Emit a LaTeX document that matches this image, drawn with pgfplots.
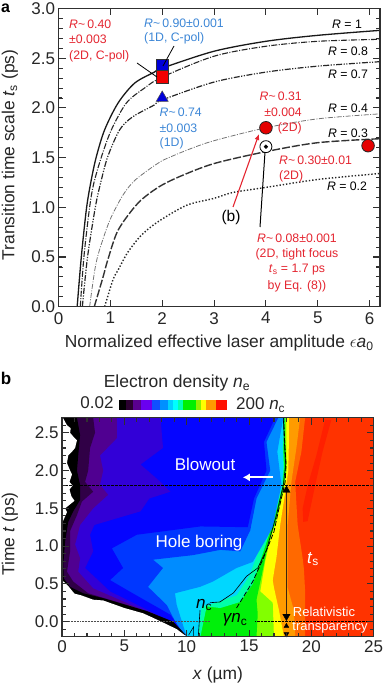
\documentclass[border=0pt]{standalone}
\usepackage{pgfplots}
\pgfplotsset{compat=1.18}
\usepackage{fontspec}
\setmainfont{Liberation Sans}
\usetikzlibrary{arrows.meta}
\definecolor{tred}{HTML}{E42530}
\definecolor{tblue}{HTML}{3C86D6}
\definecolor{framec}{HTML}{303030}
\newcommand\fs[1]{\fontsize{#1}{#1}\selectfont}
\newcommand\tn[5][center]{\node[anchor=#1,inner sep=0pt,text=#5] at ({#2*1pt},{(685-#3)*1pt}) {#4};}
\newcommand\R{\textit{R}}
\newcommand\sm{\textasciitilde}
\pgfplotsset{common/.style={
  scale only axis, tick align=inside, axis on top, tickpos=both,
  axis line style={line width=1.1pt,color=framec},
  tick style={draw=framec,solid,line width=1pt},
  tickwidth=7pt, subtickwidth=4pt,
  tick label style={font=\fs{17},text=black!85},
  label style={font=\fs{17.4},text=black!85},
  y tick label style={/pgf/number format/.cd,fixed,fixed zerofill,precision=1,assume math mode=true},
  x tick label style={/pgf/number format/assume math mode=true},
}}
\begin{document}
\begin{tikzpicture}
\useasboundingbox (0,0) rectangle (383pt,685pt);
% ---------- panel a
\begin{axis}[common,
  at={(58.5pt,378.3pt)},anchor=south west,width=321.5pt,height=298.2pt,
  xmin=0,xmax=6.2,ymin=0,ymax=3,
  xtick={0,1,2,3,4,5,6},ytick={0,0.5,...,3},minor y tick num=4,
  xticklabel style={yshift=-2pt},
  xlabel={Normalized effective laser amplitude \(\epsilon\)\textit{a}\textsubscript{0}},
  ylabel={Transition time scale \textit{t}\textsubscript{s} (ps)},
  xlabel style={at={(axis description cs:0.5,-0.123)},anchor=center},
  ylabel style={at={(axis description cs:-0.151,0.509)},anchor=center},
]
\addplot[smooth,black!90,line width=1.3pt] coordinates {(0.36,0)(0.44,0.5)(0.54,0.99)(0.63,1.27)(0.73,1.51)(0.89,1.78)(1.15,2.05)(1.47,2.25)(1.85,2.36)(2,2.40)(3,2.57)(4,2.67)(5,2.73)(6.2,2.78)};
\addplot[smooth,black!85,line width=1.1pt,dash pattern=on 6pt off 1.5pt on 1pt off 1.5pt] coordinates {(0.42,0)(0.49,0.5)(0.6,1)(0.68,1.24)(0.83,1.51)(1.02,1.78)(1.31,2.05)(1.66,2.2)(2,2.31)(3,2.52)(4,2.62)(5,2.67)(6.2,2.69)};
\addplot[smooth,black!85,line width=1.2pt,dash pattern=on 6pt off 1.5pt on 1.2pt off 1.5pt on 1.2pt off 1.5pt] coordinates {(0.46,0)(0.56,0.5)(0.71,1)(0.81,1.24)(0.95,1.51)(1.18,1.78)(1.43,1.91)(1.85,2.03)(2,2.08)(3,2.26)(4,2.36)(5,2.42)(6.2,2.465)};
\addplot[smooth,black!55,line width=0.8pt,dash pattern=on 5pt off 1.5pt on 1pt off 1.5pt] coordinates {(0.6,0)(0.7,0.37)(0.79,0.57)(0.99,0.87)(1.24,1.12)(1.47,1.27)(1.85,1.42)(2,1.47)(2.5,1.58)(3,1.67)(4,1.80)(5,1.89)(6.2,1.94)};
\addplot[smooth,black!80,line width=1.4pt,dash pattern=on 8pt off 2pt] coordinates {(0.69,0)(0.86,0.3)(0.95,0.47)(1.15,0.77)(1.53,1.04)(1.92,1.2)(2.34,1.31)(3,1.44)(4,1.56)(5,1.65)(6.2,1.69)};
\addplot[smooth,black!85,line width=1.4pt,dash pattern=on 1.4pt off 1.9pt] coordinates {(0.89,0)(1.05,0.27)(1.15,0.37)(1.34,0.55)(1.6,0.72)(1.92,0.855)(2.47,1.02)(3,1.09)(3.37,1.15)(4,1.2)(5,1.28)(6.2,1.34)};
\addplot[only marks,mark=square*,mark size=6.3pt,mark options={fill=blue!85!black,draw=black!80,line width=0.7pt}] coordinates {(2,2.42)};
\addplot[only marks,mark=square*,mark size=6.3pt,mark options={fill=red!95!black,draw=black!80,line width=0.7pt}] coordinates {(2,2.31)};
\addplot[only marks,mark=triangle*,mark size=7pt,mark options={fill=blue!85!black,draw=black!70,line width=0.5pt}] coordinates {(2,2.10)};
\addplot[only marks,mark=*,mark size=6.3pt,mark options={fill=red!90!black,draw=black!85,line width=0.8pt}] coordinates {(4,1.80)(5.97,1.62)};
\addplot[only marks,mark=*,mark size=6pt,mark options={fill=white,draw=black,line width=0.8pt}] coordinates {(4,1.61)};
\addplot[only marks,mark=*,mark size=1.9pt,mark options={fill=black,draw=black}] coordinates {(4,1.61)};
\end{axis}
% ---------- panel b
\begin{axis}[common,
  at={(62pt,48.3pt)},anchor=south west,width=311.7pt,height=219pt,
  xmin=0,xmax=25,ymin=-0.2,ymax=2.7,
  xtick={0,5,...,25},ytick={0,0.5,...,2.5},minor x tick num=4,minor y tick num=4,
  xlabel={\textit{x} (\textmu m)},
  ylabel={Time \textit{t} (ps)},
  xlabel style={at={(axis description cs:0.5,-0.175)},anchor=center},
  ylabel style={at={(axis description cs:-0.167,0.469)},anchor=center},
]
\addplot[fill={rgb,255:red,255;green,51;blue,0},draw=none] coordinates {(0,-0.2)(25,-0.2)(25,2.7)(0,2.7)} -- cycle;
\addplot[fill={rgb,255:red,255;green,32;blue,0},draw=none] coordinates {(19.35,1.32)(19.7,1.33)(20.3,1.8)(20.9,2.25)(21.6,2.67)(21.1,2.67)(20.4,2.2)(19.7,1.8)(19.3,1.5)} -- cycle;
\addplot[fill={rgb,255:red,255;green,105;blue,0},draw=none] coordinates {(0,-0.2)(19.5,-0.2)(19.5,0.4)(19.4,0.7)(19.3,0.84)(18.9,1.28)(18.7,1.85)(19.2,2.25)(19.5,2.7)(0,2.7)} -- cycle;
\addplot[fill={rgb,255:red,255;green,155;blue,0},draw=none] coordinates {(0,-0.2)(18.7,-0.2)(18.6,0.15)(18.1,0.45)(18.1,0.85)(18.1,1.28)(18.4,1.85)(18.8,2.3)(19.1,2.7)(0,2.7)} -- cycle;
\addplot[fill={rgb,255:red,255;green,255;blue,0},draw=none] coordinates {(0,-0.2)(17.8,-0.2)(17.4,0.15)(17.0,0.45)(16.9,0.55)(17.2,0.85)(17.5,1.28)(17.85,1.65)(18.15,2.0)(18.2,2.4)(18.2,2.7)(0,2.7)} -- cycle;
\addplot[fill={rgb,255:red,130;green,255;blue,0},draw=none] coordinates {(0,-0.2)(17.0,-0.2)(16.9,0.25)(15.9,0.4)(16.3,0.8)(16.8,1.15)(17.3,1.4)(17.8,1.75)(18,2.0)(18,2.3)(18,2.7)(0,2.7)} -- cycle;
\addplot[fill={rgb,255:red,0;green,240;blue,10},draw=none] coordinates {(0,-0.2)(15.6,-0.2)(15.7,0.1)(15.6,0.29)(16.0,0.6)(16.5,1.0)(17.1,1.3)(17.6,1.65)(17.85,1.85)(18,2.1)(17.9,2.4)(17.9,2.7)(0,2.7)} -- cycle;
\addplot[fill={rgb,255:red,0;green,255;blue,170},draw=none] coordinates {(0,-0.2)(11.1,-0.2)(11.6,0.2)(12.7,0.18)(14.3,0.26)(15.3,0.5)(16.1,0.9)(16.9,1.3)(17.4,1.6)(17.7,1.8)(17.8,2.05)(17.75,2.3)(17.85,2.7)(0,2.7)} -- cycle;
\addplot[fill={rgb,255:red,0;green,215;blue,255},draw=none] coordinates {(0,-0.2)(10.9,-0.2)(11.2,0.2)(12.3,0.25)(14,0.35)(15,0.6)(15.8,0.95)(16.7,1.3)(17.3,1.6)(17.65,1.8)(17.75,2.05)(17.7,2.3)(17.8,2.7)(0,2.7)} -- cycle;
\addplot[fill={rgb,255:red,0;green,140;blue,255},draw=none] coordinates {(0,-0.2)(10,-0.2)(9.2,0.22)(9.06,0.375)(11.07,0.46)(12.1,0.53)(14,0.71)(15.3,0.79)(16.4,1.1)(16.9,1.25)(17.6,1.81)(17.27,2.25)(17.75,2.7)(0,2.7)} -- cycle;
\addplot[fill={rgb,255:red,0;green,55;blue,255},draw=none] coordinates {(0,-0.2)(9.7,-0.2)(8.4,0.22)(6.9,0.46)(8.1,0.71)(7.3,0.82)(10.5,0.88)(12.7,0.95)(14.3,0.93)(15.1,1.21)(15.6,1.63)(16.7,2)(16.4,2.38)(17.35,2.7)(0,2.7)} -- cycle;
\addplot[fill={rgb,255:red,5;green,5;blue,255},draw=none] coordinates {(0,-0.2)(9.9,-0.2)(8.7,0.09)(5.2,0.42)(3.85,0.55)(4.9,0.71)(4,0.97)(6,1.15)(11.1,1.26)(14.9,1.25)(15.4,1.63)(16.4,2)(16.2,2.38)(17.1,2.7)(0,2.7)} -- cycle;
\addplot[fill={rgb,255:red,50;green,0;blue,215},draw=none] coordinates {(0,-0.2)(9.9,-0.2)(9.2,-0.04)(3.85,0.4)(1.85,0.71)(2.5,0.93)(2.25,1.15)(2.6,1.28)(6.3,1.46)(7,1.63)(8.7,1.72)(7.9,1.85)(6.3,2.08)(8.1,2.3)(7.9,2.7)(0,2.7)} -- cycle;
\addplot[fill={rgb,255:red,80;green,0;blue,145},draw=none] coordinates {(0,-0.2)(9.9,-0.2)(8.9,-0.02)(2.5,0.44)(1.3,0.66)(1.45,0.84)(1.05,1.02)(1.45,1.28)(2.5,1.5)(3.7,1.68)(3.05,1.81)(3.3,2)(3.05,2.2)(4.4,2.43)(4.4,2.7)(0,2.7)} -- cycle;
\addplot[fill={rgb,255:red,48;green,0;blue,70},draw=none] coordinates {(0,-0.2)(9.8,-0.2)(7.9,0.04)(5.2,0.22)(2.1,0.375)(0.9,0.53)(0.4,0.66)(0.65,0.93)(0.65,1.2)(1.2,1.41)(1.6,1.59)(2.5,1.72)(1.85,1.85)(2.1,2)(2.25,2.3)(2.65,2.5)(2.5,2.7)(0,2.7)} -- cycle;
\addplot[fill=black,draw=none] coordinates {(0,-0.2)(9.95,-0.18)(8.9,0)(6.8,0.14)(3.3,0.31)(1.7,0.375)(0.65,0.46)(0.15,0.57)(0.1,0.75)(0.25,1.06)(0.5,1.32)(0.9,1.46)(1.45,1.61)(1.45,1.81)(1.2,2)(1.3,2.2)(1.45,2.47)(1.2,2.7)(0,2.7)} -- cycle;
\addplot[fill=white,draw=none] coordinates {(0,-0.2)(10,-0.2)(9.2,-0.1)(8.2,-0.02)(7.3,0.05)(6.5,0.11)(5,0.18)(3.3,0.28)(2.5,0.29)(1.5,0.35)(1,0.37)(0.5,0.47)(0,0.55)} -- cycle;
\addplot[fill=white,draw=none] coordinates {(0,1.3)(0.05,1.32)(0.4,1.45)(0.25,1.5)(1,1.6)(0.75,1.66)(0.6,1.75)(0.85,1.8)(0.6,1.85)(0.8,1.95)(0.65,2)(0.4,2.1)(0.5,2.2)(0.8,2.25)(1.05,2.3)(1.2,2.4)(0.85,2.46)(0.65,2.5)(0.7,2.56)(0.4,2.6)(0.1,2.69)(0,2.7)} -- cycle;
% guide lines
\addplot[black,line width=0.35pt,densely dotted] coordinates {(0,1.81)(25,1.81)};
\addplot[black!70,line width=0.5pt,densely dotted] coordinates {(0,0)(11.8,0)};
\addplot[black,line width=0.4pt,densely dotted] coordinates {(15.5,0)(25,0)};
% density contours
\addplot[black,line width=0.6pt] coordinates {(10.93,-0.2)(11.07,0.15)};
\addplot[black,line width=0.6pt] coordinates {(11.87,0.25)(12.67,0.26)(13.75,0.38)(14.8,0.6)(15.7,0.71)(16.4,0.95)(17.2,1.41)(17.75,1.81)(17.94,2.08)(17.83,2.38)(17.75,2.7)};
\addplot[black,line width=0.8pt,dash pattern=on 5pt off 2pt] coordinates {(14,0.18)(15.3,0.53)(16.15,0.84)(17,1.19)(17.35,1.46)(17.9,1.85)(17.97,2.08)(17.86,2.38)(17.78,2.7)};
\addplot[black,line width=0.5pt] coordinates {(10.15,-0.18)(10.55,-0.07)(10.55,-0.2)};
% transition time
\addplot[black!70!brown,line width=0.7pt] coordinates {(18,1.75)(18,0.07)};
\addplot[only marks,mark=triangle*,mark size=4.2pt,mark options={fill=black,draw=black}] coordinates {(18,1.74)};
\addplot[only marks,mark=triangle*,mark size=4.2pt,mark options={fill=black,draw=black,rotate=180}] coordinates {(18,0.07)};
\addplot[only marks,mark=triangle*,mark size=2.8pt,mark options={fill=black,draw=black}] coordinates {(18,-0.06)};
\addplot[only marks,mark=triangle*,mark size=2.8pt,mark options={fill=black,draw=black,rotate=180}] coordinates {(18,-0.165)};
\addplot[white,line width=2pt,-{Latex[length=7pt,width=8pt]}] coordinates {(16.9,1.91)(14.5,1.91)};
\end{axis}
% ---------- frames and ticks
\draw[framec,line width=1.1pt] (58.5pt,378.3pt) rectangle (380pt,676.5pt);
\draw[framec,line width=1.1pt] (62pt,48.3pt) rectangle (373.7pt,267.3pt);
\foreach \k in {1,...,6}{
  \draw[framec,line width=0.9pt] ({(58.5+51.855*\k)*1pt},378.3pt) -- ++(0,7pt);
  \draw[framec,line width=0.9pt] ({(58.5+51.855*\k)*1pt},676.5pt) -- ++(0,-7pt);
}
\foreach \k [evaluate=\k as \L using {mod(\k,5)==0?7:4}] in {1,...,29}{
  \draw[framec,line width=0.8pt] (58.5pt,{(378.3+9.94*\k)*1pt}) -- ++({\L*1pt},0);
  \draw[framec,line width=0.8pt] (380pt,{(378.3+9.94*\k)*1pt}) -- ++({-\L*1pt},0);
}
\foreach \k [evaluate=\k as \L using {mod(\k,5)==0?7:4}] in {1,...,24}{
  \draw[framec,line width=0.8pt] ({(62+12.468*\k)*1pt},48.3pt) -- ++(0,{\L*1pt});
  \draw[framec,line width=0.8pt] ({(62+12.468*\k)*1pt},267.3pt) -- ++(0,{-\L*1pt});
}
\foreach \k [evaluate=\k as \L using {mod(\k,5)==0?7:4}] in {-1,...,26}{
  \draw[framec,line width=0.8pt] (62pt,{(48.3+7.5517*(\k+2))*1pt}) -- ++({\L*1pt},0);
  \draw[framec,line width=0.8pt] (373.7pt,{(48.3+7.5517*(\k+2))*1pt}) -- ++({-\L*1pt},0);
}
% ---------- panel letters
\tn{5.5}{8}{\fs{16}\bfseries a}{black}
\tn{6}{378}{\fs{17}\bfseries b}{black}
% ---------- panel a annotations
\tn[west]{69}{24}{\fs{12.3}\R\sm\,0.40}{tred}
\tn[west]{69}{39.5}{\fs{12.3}±0.003}{tred}
\tn[west]{69}{56}{\fs{12.3}(2D, C-pol)}{tred}
\tn[west]{144}{23}{\fs{12.3}\R\sm\,0.90±0.001}{tblue}
\tn[west]{144}{38.5}{\fs{12.3}(1D, C-pol)}{tblue}
\tn[west]{159.5}{112}{\fs{12.3}\R\sm\,0.74}{tblue}
\tn[west]{159.5}{128}{\fs{12.3}±0.003}{tblue}
\tn[west]{159.5}{143.5}{\fs{12.3}(1D)}{tblue}
\tn[east]{302}{96}{\fs{12.3}\R\sm\,0.31}{tred}
\tn[east]{302}{112}{\fs{12.3}±0.004}{tred}
\tn[east]{302}{128}{\fs{12.3}(2D)}{tred}
\tn[west]{279}{160}{\fs{12.3}\R\sm\,0.30±0.01}{tred}
\tn[west]{279}{176}{\fs{12.3}(2D)}{tred}
\tn{297}{238}{\fs{12.3}\R\sm\,0.08±0.001}{tred}
\tn{297}{254}{\fs{12.3}(2D, tight focus}{tred}
\tn{297}{270}{\fs{12.3}\textit{t}\textsubscript{s} = 1.7 ps}{tred}
\tn{297}{286}{\fs{12.3}by Eq. (8))}{tred}
\tn{347}{24}{\fs{12.3}\R\ = 1}{black}
\tn{348}{51}{\fs{12.3}\R\ = 0.8}{black}
\tn{348}{74}{\fs{12.3}\R\ = 0.7}{black}
\tn{348}{108}{\fs{12.3}\R\ = 0.4}{black}
\tn{348}{133}{\fs{12.3}\R\ = 0.3}{black}
\tn{347}{186}{\fs{12.3}\R\ = 0.2}{black}
\tn{231}{217}{\fs{15.5}(b)}{black}
\draw[black,line width=0.8pt] (174pt,{(685-46)*1pt}) -- (163pt,{(685-66)*1pt});
\draw[black,line width=0.8pt] (137pt,{(685-63)*1pt}) -- (157pt,{(685-77)*1pt});
\draw[tred,line width=1.1pt,-{Latex[length=6pt,width=5pt]}] (233pt,{(685-207)*1pt}) -- (259pt,{(685-134)*1pt});
\draw[black,line width=1pt] (260pt,{(685-227)*1pt}) -- (265pt,{(685-152)*1pt});
% ---------- colour key
\foreach \a/\b/\c in {119.3/126/000000,126/133/2A0030,133/141/5A0090,141/151.5/6A00F0,151.5/160/1050FF,160/168/0090FF,168/173/00D0FF,173/178/00FFFF,178/183/00FFB0,183/196/00F000,196/201/90F000,201/206/FFFF00,206/216/FF9900,216/227.3/FF1000}{
  \definecolor{kc}{HTML}{\c}
  \fill[kc] ({\a*1pt},{(685-400.3)*1pt}) rectangle ({\b*1pt},{(685-410)*1pt});
}
\tn{177}{383}{\fs{17.5}Electron density \textit{n}\textsubscript{e}}{black!85}
\tn{97}{403}{\fs{17}0.02}{black!85}
\tn[west]{236}{405}{\fs{17}200 \textit{n}\textsubscript{c}}{black!85}
% ---------- panel b annotations
\tn{205}{464}{\fs{17}Blowout}{white}
\tn{199}{543}{\fs{17}Hole boring}{white}
\tn{313}{559}{\fs{17}\textit{t}\textsubscript{s}}{white}
\tn{324}{612}{\fs{13}Relativistic}{white}
\tn{330}{628}{\fs{13}transparency}{white}
\tn{204}{605}{\fs{17}\textit{n}\textsubscript{c}}{black}
\tn{235}{620}{\fs{17}\textit{γn}\textsubscript{c}}{black}
\end{tikzpicture}
\end{document}
